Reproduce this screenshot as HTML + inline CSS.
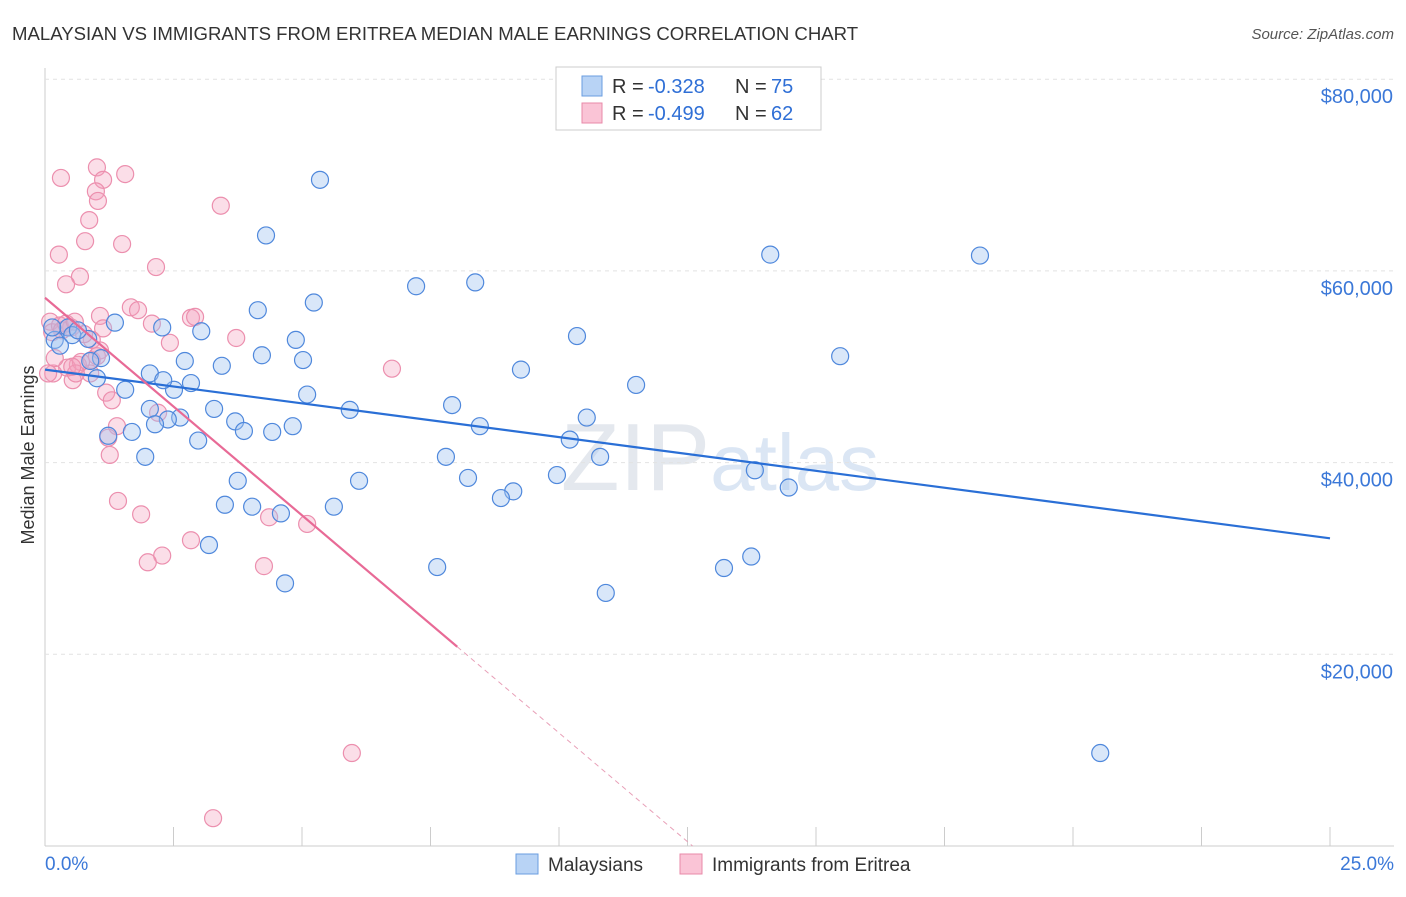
<!DOCTYPE html>
<html><head><meta charset="utf-8"><style>
body{margin:0;background:#fff;font-family:"Liberation Sans",sans-serif;}
svg text{font-family:"Liberation Sans",sans-serif;}
</style></head><body>
<svg id="chart" width="1406" height="892">
<text x="12" y="40" font-size="18.6" fill="#333">MALAYSIAN VS IMMIGRANTS FROM ERITREA MEDIAN MALE EARNINGS CORRELATION CHART</text>
<text x="1394" y="39" font-size="15" fill="#555" font-style="italic" text-anchor="end">Source: ZipAtlas.com</text>
<text x="720" y="490" font-size="96" fill="#e4e8ee" text-anchor="middle" font-family="Liberation Serif">ZIP<tspan font-family="Liberation Sans" font-size="80" fill="#dbe6f4">atlas</tspan></text>
<g id="grid"></g><g id="marks"></g>
<text transform="translate(34,455) rotate(-90)" font-size="18" fill="#333" text-anchor="middle">Median Male Earnings</text>
<g>
<rect x="556" y="67" width="265" height="63" fill="#fff" stroke="#ccc"/>
<rect x="582" y="76" width="20" height="20" fill="#b8d3f5" stroke="#6a9ee0"/>
<rect x="582" y="103" width="20" height="20" fill="#fac4d6" stroke="#e88aa8"/>
<text x="612" y="93" font-size="20" fill="#333">R =</text>
<text x="648" y="93" font-size="20" fill="#2f6fd6">-0.328</text>
<text x="735" y="93" font-size="20" fill="#333">N =</text>
<text x="771" y="93" font-size="20" fill="#2f6fd6">75</text>
<text x="612" y="120" font-size="20" fill="#333">R =</text>
<text x="648" y="120" font-size="20" fill="#2f6fd6">-0.499</text>
<text x="735" y="120" font-size="20" fill="#333">N =</text>
<text x="771" y="120" font-size="20" fill="#2f6fd6">62</text>
</g>
<g>
<rect x="516" y="854" width="22" height="20" fill="#b8d3f5" stroke="#6a9ee0"/>
<text x="548" y="871" font-size="19" fill="#333">Malaysians</text>
<rect x="680" y="854" width="22" height="20" fill="#fac4d6" stroke="#e88aa8"/>
<text x="712" y="871" font-size="19" fill="#333">Immigrants from Eritrea</text>
</g>
</svg>
<script>
const bx=[5.35,4.30,14.11,18.19,8.37,7.22,5.23,4.14,10.35,4.88,15.47,4.22,5.02,2.72,3.44,9.26,11.50,5.10,2.84,2.51,2.04,2.30,1.56,1.01,7.92,5.93,3.29,2.04,2.63,2.39,2.14,3.70,4.82,8.46,10.54,10.21,3.87,4.42,1.69,1.23,2.98,1.95,7.80,10.80,3.75,6.11,8.23,9.96,13.81,9.11,8.87,14.47,3.50,4.03,4.59,5.62,3.19,13.21,13.74,7.63,4.67,10.91,20.53,1.36,2.28,3.04,1.09,0.19,0.45,0.53,0.84,0.14,0.88,0.29,0.64];
const by=[69500,63700,61700,61600,58800,58400,56700,55900,53200,52800,51100,51200,50700,50600,50100,49700,48100,47100,48300,47600,49300,48600,47600,48800,46000,45500,45600,45600,44700,44500,44000,44300,43800,43800,44700,42400,43300,43200,43200,42800,42300,40600,40600,40600,38100,38100,38400,38700,39200,37000,36300,37400,35600,35400,34700,35400,31400,29000,30200,29100,27400,26400,9700,54600,54100,53700,50900,52800,54100,53300,52900,54100,50600,52200,53800];
const px=[0.31,1.01,1.56,1.13,0.99,1.03,3.42,0.86,0.78,1.50,0.27,2.16,0.68,0.41,1.67,1.81,1.07,2.84,2.92,3.72,2.08,2.43,1.13,0.91,0.10,0.14,0.29,0.51,0.91,0.64,0.43,0.16,0.06,0.54,0.88,1.19,1.30,1.40,2.20,1.23,1.26,1.42,1.87,6.75,4.36,5.10,2.84,2.28,2.00,4.26,5.97,3.27,0.70,0.60,0.33,0.19,1.07,0.76,0.41,0.58,1.01,0.53];
const py=[69700,70800,70100,69500,68300,67300,66800,65300,63100,62800,61700,60400,59400,58600,56200,55900,55300,55100,55200,53000,54500,52500,54000,52800,54700,53600,54300,54100,50700,50200,49900,49300,49300,48600,49300,47300,46500,43800,45200,42600,40800,36000,34600,49800,34300,33600,31900,30300,29600,29200,9700,2900,50500,49300,53800,50900,51700,53400,54500,54700,51100,50000];
const blueTrend=[49700,32100];
const pinkIntercept=57200, pinkSlope=-4540, pinkSolidEnd=8.02;
const yTicks=[20000,40000,60000,80000];
const yLabels=["$20,000","$40,000","$60,000","$80,000"];
const xTicks=[0,2.5,5,7.5,10,12.5,15,17.5,20,22.5,25];
const NS="http://www.w3.org/2000/svg";
const X=v=>45+v*51.4, Y=v=>846-v*191.7/20000;
function mk(t,a,p){const e=document.createElementNS(NS,t);for(const k in a)e.setAttribute(k,a[k]);p.appendChild(e);return e;}
const grid=document.getElementById('grid'), marks=document.getElementById('marks');
let ax=mk('line',{x1:45,x2:45,y1:68,y2:846,stroke:'#ccc'},grid);


let xa=mk('line',{x1:45,x2:1394,y1:846,y2:846,stroke:'#ccc'},grid);


yTicks.forEach((v,i)=>{
 let g=mk('line',{x1:45,x2:1394,y1:Y(v),y2:Y(v),stroke:'#e2e2e2','stroke-dasharray':'4,4'},grid);
 
 
 let t=mk('text',{x:1393,y:Y(v)+24,'font-size':20,fill:'#3b78d8','text-anchor':'end'},grid);t.textContent=yLabels[i];
 
 
});
xTicks.forEach(v=>{let l=mk('line',{x1:X(v),x2:X(v),y1:827,y2:846,stroke:'#ccc'},grid);
 
 });
let xl0=mk('text',{x:45,y:870,'font-size':19,fill:'#3b78d8'},grid);xl0.textContent='0.0%';


let xl1=mk('text',{x:1394,y:870,'font-size':19,fill:'#3b78d8','text-anchor':'end'},grid);xl1.textContent='25.0%';


px.forEach((v,i)=>{let c=mk('circle',{cx:X(v),cy:Y(py[i]),r:8.5,fill:'rgba(244,160,190,0.35)',stroke:'#ec8fae','stroke-width':1.2},marks);
 
 });
bx.forEach((v,i)=>{let c=mk('circle',{cx:X(v),cy:Y(by[i]),r:8.5,fill:'rgba(160,195,240,0.4)',stroke:'#4f88dc','stroke-width':1.2},marks);
 
 });
let bl=mk('line',{x1:X(0),y1:Y(blueTrend[0]),x2:X(25),y2:Y(blueTrend[1]),stroke:'#2a6fd6','stroke-width':2.2},marks);


const pEnd=pinkIntercept+pinkSlope*pinkSolidEnd, x0=-pinkIntercept/pinkSlope;
let pl=mk('line',{x1:X(0),y1:Y(pinkIntercept),x2:X(pinkSolidEnd),y2:Y(pEnd),stroke:'#e86a96','stroke-width':2.2},marks);


let pd=mk('line',{x1:X(pinkSolidEnd),y1:Y(pEnd),x2:X(x0),y2:Y(0),stroke:'#e8a0b8','stroke-width':1,'stroke-dasharray':'5,4'},marks);


</script>
</body></html>
